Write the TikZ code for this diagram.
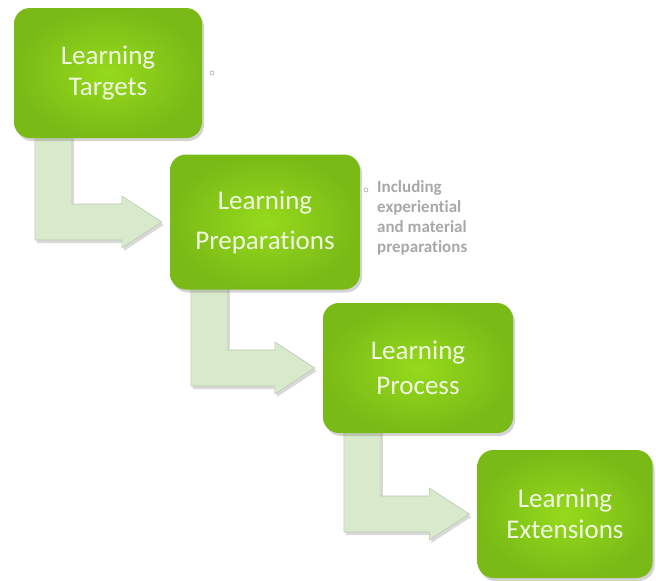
\documentclass[tikz,border=0pt]{standalone}
\usepackage{fontspec}
\setmainfont{Carlito}[Ligatures=NoCommon]
\usetikzlibrary{calc,shadows}
\pgfdeclarelayer{bg}
\pgfsetlayers{bg,main}
\definecolor{stageinner}{HTML}{96DA1B}
\definecolor{stageouter}{HTML}{79BA17}
\definecolor{stagetext}{HTML}{F1F7E2}
\definecolor{arrowfill}{HTML}{D8EACB}
\definecolor{arrowedge}{HTML}{B9C9AE}
\definecolor{notegray}{HTML}{A8A8A8}

% bent arrow from the foot of one stage to the left side of the next
\newcommand\stagearrow[2]{%
  \path[flowarrow] let \p1=(#1.south west), \p2=(#2.west) in
    (\x1+21pt,\y1+6pt) -- (\x1+21pt,\y2-18pt) -- (\x2-48pt,\y2-18pt)
    -- (\x2-48pt,\y2-26pt) -- (\x2-8pt,\y2) -- (\x2-48pt,\y2+26pt)
    -- (\x2-48pt,\y2+18pt) -- (\x1+58pt,\y2+18pt) -- (\x1+58pt,\y1+6pt) -- cycle;}

\begin{document}
\begin{tikzpicture}[x=1pt,y=-1pt,
  stage/.style={rectangle, rounded corners=16pt, inner sep=0pt,
    shading=radial, inner color=stageinner, outer color=stageouter,
    drop shadow={shadow xshift=2pt, shadow yshift=-3pt, opacity=0.35},
    text=stagetext, align=center},
  flowarrow/.style={fill=arrowfill, draw=arrowedge, line width=0.6pt,
    drop shadow={shadow xshift=2pt, shadow yshift=-3pt, opacity=0.3}},
  bulletmark/.style={circle, draw=notegray, line width=0.6pt, inner sep=0pt, minimum size=4pt},
  note/.style={text=notegray, align=left, anchor=north west, inner sep=0pt,
    font=\bfseries\fontsize{17}{20}\selectfont}]
\useasboundingbox (0,0) rectangle (656,581);

\node[stage, minimum width=188pt, minimum height=130pt,
  font=\fontsize{27}{31}\selectfont] (targets) at (108,73) {Learning\\Targets};
\node[stage, minimum width=190pt, minimum height=135pt,
  font=\fontsize{27}{40}\selectfont] (prep) at (265,222) {Learning\\Preparations};
\node[stage, minimum width=190pt, minimum height=130pt,
  font=\fontsize{27}{35}\selectfont] (process) at (418,368) {Learning\\Process};
\node[stage, minimum width=175pt, minimum height=128pt,
  font=\fontsize{27}{31}\selectfont] (ext) at (565,514) {Learning\\Extensions};

\node[bulletmark] (b1) at (212,73) {};
\node[bulletmark] (b2) at (366,190) {};
\node[note] (prepnote) at (377,180) {Including\\experiential\\and material\\preparations};

\begin{pgfonlayer}{bg}
  \stagearrow{targets}{prep}
  \stagearrow{prep}{process}
  \stagearrow{process}{ext}
\end{pgfonlayer}
\end{tikzpicture}
\end{document}
